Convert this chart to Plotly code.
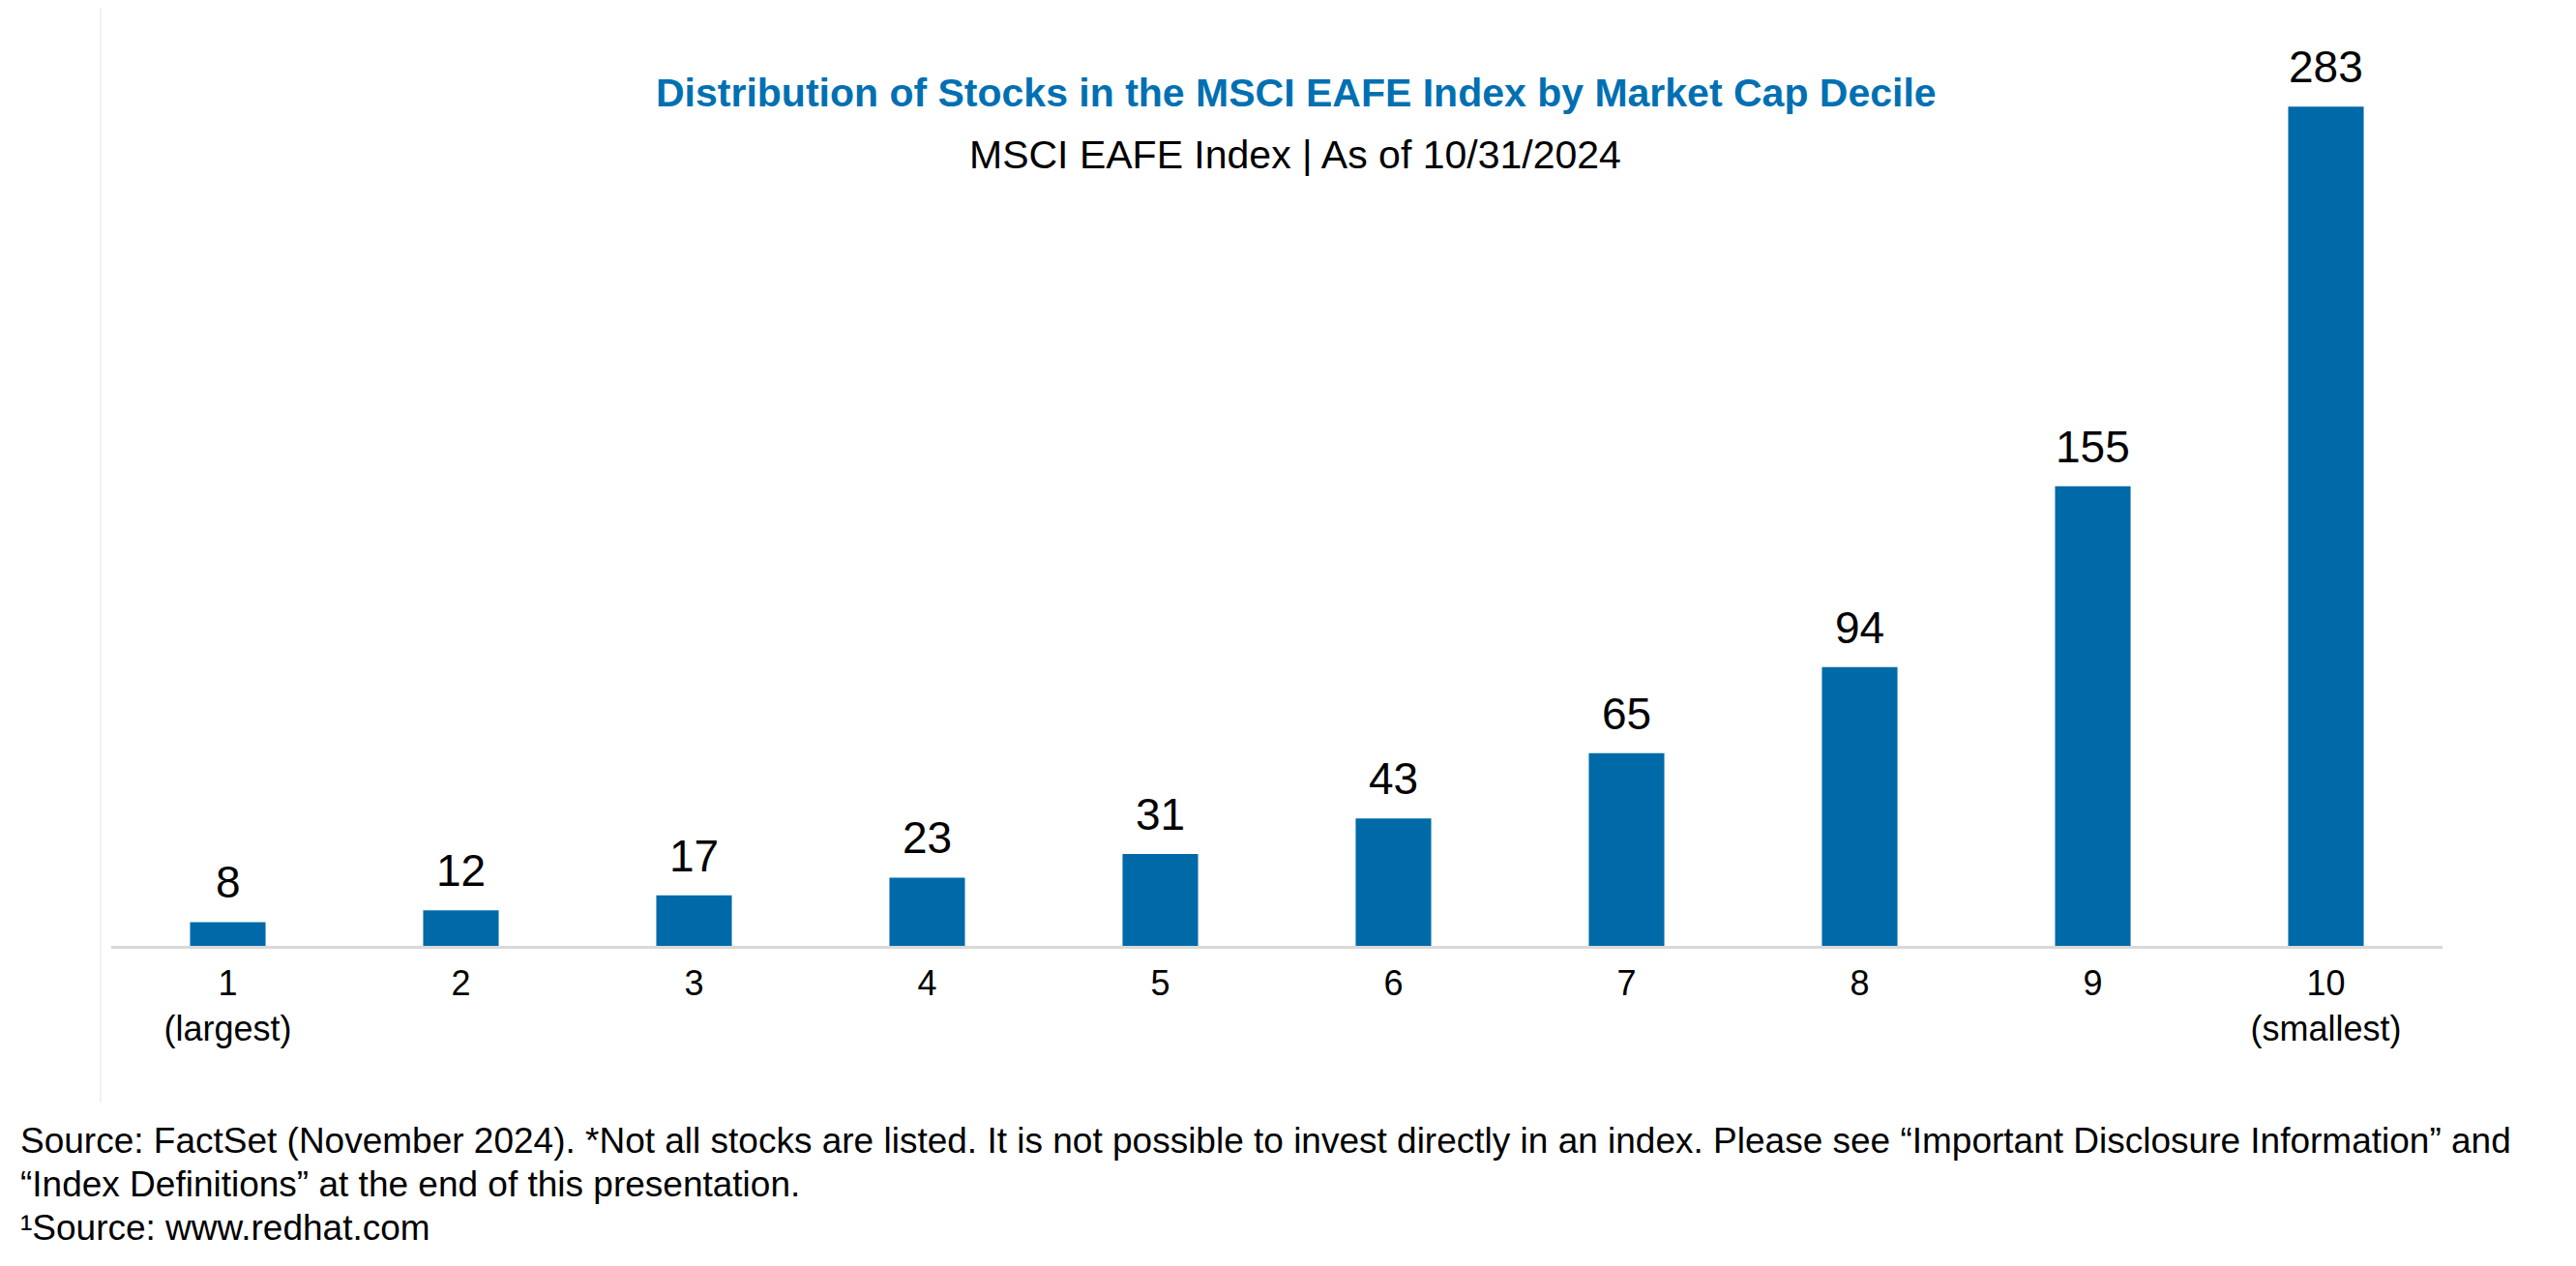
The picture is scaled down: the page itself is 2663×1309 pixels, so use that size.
import plotly.graph_objects as go

# ---- data ----
deciles = [1, 2, 3, 4, 5, 6, 7, 8, 9, 10]
stock_counts = [8, 12, 17, 23, 31, 43, 65, 94, 155, 283]
tick_labels = ["1<br>(largest)", "2", "3", "4", "5", "6", "7", "8", "9", "10<br>(smallest)"]

title_text = "<b>Distribution of Stocks in the MSCI EAFE Index by Market Cap Decile</b>"
subtitle_text = "MSCI EAFE Index | As of 10/31/2024"
footer_lines = [
    "Source: FactSet (November 2024). *Not all stocks are listed. It is not possible to invest directly in an index. Please see “Important Disclosure Information” and",
    "“Index Definitions” at the end of this presentation.",
    "¹Source: www.redhat.com",
]

# ---- layout geometry (pixels) ----
OFF = 8  # page body margin
W, H = 2663 - 2 * OFF, 1309 - 2 * OFF
PLOT_LEFT, PLOT_RIGHT, PLOT_TOP, PLOT_BOTTOM = 115, 2525, 58, 978  # screenshot coords
ML = PLOT_LEFT - OFF
MR = W - (PLOT_RIGHT - OFF)
MT = PLOT_TOP - OFF
MB = H - (PLOT_BOTTOM - OFF)
PW = W - ML - MR
PH = H - MT - MB

def px_x(x):
    return (x - PLOT_LEFT) / PW

def px_y(y):
    return (PLOT_BOTTOM - y) / PH

FONT = "Liberation Sans, Arial, sans-serif"
BAR_BLUE = "#006AA8"
TITLE_BLUE = "#0070B2"

fig = go.Figure()
fig.add_trace(go.Bar(
    x=deciles,
    y=stock_counts,
    width=0.324,
    marker=dict(color=BAR_BLUE, line=dict(width=0)),
    hoverinfo="x+y",
))

annotations = []
for d, v in zip(deciles, stock_counts):
    annotations.append(dict(
        x=d, y=v, xref="x", yref="y", text=str(v), showarrow=False,
        yanchor="bottom", xanchor="center", yshift=13,
        font=dict(family=FONT, size=46, color="#000000"),
    ))

annotations.append(dict(
    x=px_x(1340), y=px_y(96), xref="paper", yref="paper", text=title_text,
    showarrow=False, xanchor="center", yanchor="middle",
    font=dict(family=FONT, size=41, color=TITLE_BLUE),
))
annotations.append(dict(
    x=px_x(1339), y=px_y(160), xref="paper", yref="paper", text=subtitle_text,
    showarrow=False, xanchor="center", yanchor="middle",
    font=dict(family=FONT, size=41, color="#000000"),
))
for line, ypix in zip(footer_lines, [1179, 1224, 1269]):
    annotations.append(dict(
        x=px_x(19), y=px_y(ypix), xref="paper", yref="paper", text=line,
        showarrow=False, xanchor="left", yanchor="middle",
        font=dict(family=FONT, size=37, color="#000000"),
    ))

fig.update_layout(
    width=W, height=H,
    margin=dict(l=ML, r=MR, t=MT, b=MB, pad=0),
    paper_bgcolor="#FFFFFF",
    plot_bgcolor="rgba(0,0,0,0)",
    showlegend=False,
    annotations=annotations,
    shapes=[dict(
        type="line", xref="paper", yref="paper",
        x0=px_x(104), x1=px_x(104), y0=px_y(OFF), y1=px_y(1140),
        line=dict(color="#F2F2F2", width=2), layer="below",
    )],
    xaxis=dict(
        range=[0.5, 10.5],
        tickvals=deciles, ticktext=tick_labels,
        tickfont=dict(family=FONT, size=36, color="#000000"),
        showgrid=False, zeroline=False,
        showline=True, linecolor="#D9D9D9", linewidth=3,
        ticks="", ticklabelstandoff=5,
        fixedrange=True,
    ),
    yaxis=dict(
        range=[0, 300], visible=False, showgrid=False, zeroline=False,
        fixedrange=True,
    ),
)

fig.write_html("out.html")
